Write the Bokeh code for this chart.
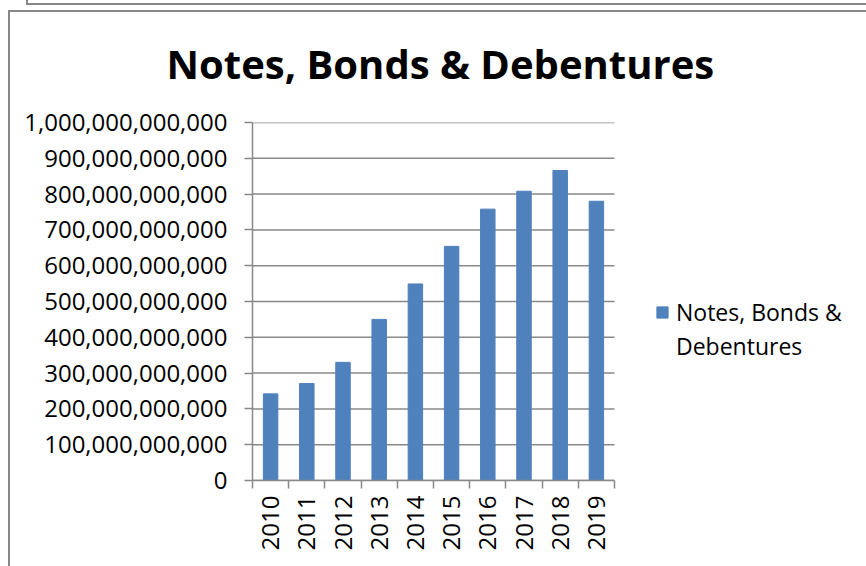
import math
from bokeh.plotting import figure
from bokeh.models import (FixedTicker, NumeralTickFormatter, Legend, LegendItem,
                          Range1d)
from bokeh.embed import file_html
from bokeh.resources import INLINE

# ---- data ----
years = ["2010", "2011", "2012", "2013", "2014", "2015", "2016", "2017", "2018", "2019"]
values = [242e9, 271e9, 330e9, 450e9, 549e9, 654e9, 758e9, 808e9, 866e9, 780e9]
y_ticks = [0, 1e11, 2e11, 3e11, 4e11, 5e11, 6e11, 7e11, 8e11, 9e11, 1e12]
legend_lines = ["Notes, Bonds &", "Debentures"]
title_text = "Notes, Bonds & Debentures"

FONT = "Open Sans"
GRAY = "#888888"
BAR = "#4F81BD"

n = len(years)
xs = [i + 0.5 for i in range(n)]
bounds = list(range(n + 1))

# frame extends to the right edge so the legend (inside the frame) is not clipped;
# the category axis itself only covers [0, n]
PLOT_W, FRAME_L, CAT_AREA_W = 866, 252, 362
x_end = n * (PLOT_W - FRAME_L) / CAT_AREA_W

p = figure(width=PLOT_W, height=566,
           x_range=Range1d(0, x_end), y_range=Range1d(0, 1e12),
           output_backend="svg", toolbar_location=None,
           min_border_left=FRAME_L, min_border_right=0,
           min_border_top=122, min_border_bottom=86)

# thin frame lines of the surrounding sheet (drawn as CSS background of the figure)
g = f"linear-gradient({GRAY},{GRAY})"
p.styles = {
    "background-color": "white",
    "background-image": ", ".join([g, g, g, g]),
    "background-size": "840px 2px, 2px 5px, 858px 2px, 2px 556px",
    "background-position": "26px 3px, 26px 0px, 8px 10px, 8px 10px",
    "background-repeat": "no-repeat",
}
p.outline_line_color = None
p.background_fill_color = "white"
p.border_fill_alpha = 0

# horizontal gridlines over the category area only
p.segment(x0=[0] * len(y_ticks), x1=[n] * len(y_ticks), y0=y_ticks, y1=y_ticks,
          line_color=GRAY, line_width=1.5)

r = p.vbar(x=xs, top=values, width=0.4, fill_color=BAR, line_color=BAR)
r_blank = p.vbar(x=[], top=[], width=0.4, fill_alpha=0, line_alpha=0)

# title
p.title.text = title_text
p.title.text_font = FONT
p.title.text_font_style = "bold"
p.title.text_font_size = "40px"
p.title.text_color = "black"
p.title.align = "left"
p.title.offset = -86
p.title.standoff = 64

# x axis
xa = p.xaxis[0]
xa.bounds = (0, n)
xa.ticker = FixedTicker(ticks=xs, minor_ticks=bounds)
xa.major_label_overrides = {x: y for x, y in zip(xs, years)}
xa.major_label_orientation = math.pi / 2
xa.major_tick_line_color = None
xa.major_tick_out = 8
xa.major_tick_in = 0
xa.minor_tick_out = 8
xa.minor_tick_in = 0
xa.minor_tick_line_color = GRAY
xa.minor_tick_line_width = 1.5
xa.axis_line_color = GRAY
xa.axis_line_width = 1.5
xa.major_label_text_font = FONT
xa.major_label_text_font_size = "24px"
xa.major_label_text_color = "black"
xa.major_label_standoff = 7

# y axis
ya = p.yaxis[0]
ya.ticker = FixedTicker(ticks=y_ticks)
ya.formatter = NumeralTickFormatter(format="0,0")
ya.major_tick_out = 8
ya.major_tick_in = 0
ya.minor_tick_line_color = None
ya.major_tick_line_color = GRAY
ya.major_tick_line_width = 1.5
ya.axis_line_color = GRAY
ya.axis_line_width = 1.5
ya.major_label_text_font = FONT
ya.major_label_text_font_size = "24px"
ya.major_label_text_color = "black"
ya.major_label_standoff = 17

p.xgrid.visible = False
p.ygrid.visible = False

legend = Legend(items=[LegendItem(label=legend_lines[0], renderers=[r]),
                       LegendItem(label=legend_lines[1], renderers=[r_blank])],
                location=(403, 118))
legend.border_line_color = None
legend.background_fill_alpha = 0
legend.label_text_font = FONT
legend.label_text_font_size = "23px"
legend.label_text_color = "black"
legend.glyph_width = 14
legend.glyph_height = 14
legend.label_standoff = 7
legend.padding = 0
legend.margin = 0
legend.spacing = 2
p.add_layout(legend)

open("out.html", "w").write(file_html(p, INLINE))
